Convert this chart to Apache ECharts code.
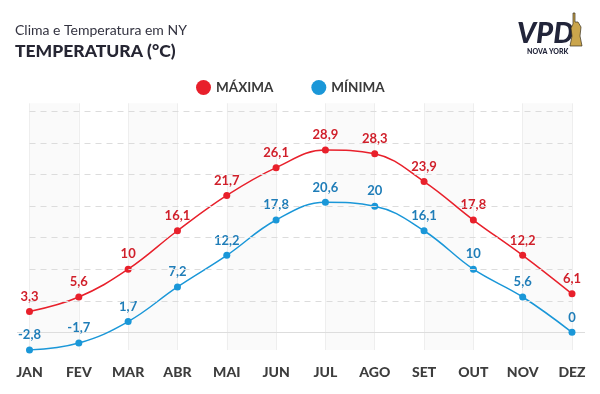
<!DOCTYPE html>
<html><head><meta charset="utf-8">
<script src="https://cdn.jsdelivr.net/npm/echarts@6/dist/echarts.min.js"></script>
<style>html,body{margin:0;padding:0;background:#fff}#c{width:600px;height:394px}</style>
</head><body><div id="c"></div>
<script>
const months = ['JAN','FEV','MAR','ABR','MAI','JUN','JUL','AGO','SET','OUT','NOV','DEZ'];
const maxima = [3.3, 5.6, 10, 16.1, 21.7, 26.1, 28.9, 28.3, 23.9, 17.8, 12.2, 6.1];
const minima = [-2.8, -1.7, 1.7, 7.2, 12.2, 17.8, 20.6, 20, 16.1, 10, 5.6, 0];
const gridValues = [5, 10, 15, 20, 25, 30, 35];

const FONT = 'Lato';
const RED = '#e8202b', BLUE = '#1a97d8';
const fmt = p => String(p.value).replace('.', ',');

const chart = echarts.init(document.getElementById('c'), null, {renderer: 'canvas'});
const option = {
  animation: false,
  backgroundColor: '#fff',
  title: [{
    left: 10, top: 18,
    text: 'Clima e Temperatura em NY',
    textStyle: {fontFamily: FONT, fontSize: 14, fontWeight: 'normal', color: '#333340'},
    subtext: 'TEMPERATURA (°C)',
    itemGap: 5,
    subtextStyle: {fontFamily: FONT, fontSize: 17.5, fontWeight: 900, color: '#262633'}
  }],
  legend: {
    left: 191, top: 75,
    icon: 'circle', itemWidth: 15, itemHeight: 15, itemGap: 38,
    textStyle: {fontFamily: FONT, fontSize: 13.5, fontWeight: 'bold', color: '#3a3a3a'},
    data: ['MÁXIMA', 'MÍNIMA']
  },
  grid: {left: 29.5, right: 28, top: 103.3, bottom: 44},
  xAxis: {
    type: 'category', data: months, boundaryGap: false,
    axisLine: {show: false}, axisTick: {show: false},
    axisLabel: {fontFamily: FONT, fontSize: 14, fontWeight: 900, color: '#3d3d3d', margin: 15},
    splitLine: {show: true, lineStyle: {color: '#eeeeee', width: 1}},
    splitArea: {show: true, areaStyle: {color: ['#fafafa', '#ffffff']}}
  },
  yAxis: {
    type: 'value', min: -2.8, max: 36.3,
    axisLabel: {show: false}, axisLine: {show: false}, axisTick: {show: false},
    splitLine: {show: false}
  },
  series: [{
    name: 'grid', type: 'line', data: [], z: 1, silent: true,
    markLine: {
      silent: true, symbol: 'none', label: {show: false},
      lineStyle: {type: [6, 5], color: '#dcdcdc', width: 1},
      data: gridValues.map(v => ({yAxis: v}))
    }
  }, {
    name: 'MÁXIMA', type: 'line', data: maxima, smooth: 0.4,
    symbol: 'circle', symbolSize: 7,
    itemStyle: {color: RED}, lineStyle: {color: RED, width: 1.5},
    label: {show: true, position: 'top', distance: 5, formatter: fmt,
      fontFamily: FONT, fontSize: 13, fontWeight: 'bold', color: '#d01f2a'},
    z: 3
  }, {
    name: 'MÍNIMA', type: 'line', data: minima, smooth: 0.4,
    symbol: 'circle', symbolSize: 7,
    itemStyle: {color: BLUE}, lineStyle: {color: BLUE, width: 1.5},
    label: {show: true, position: 'top', distance: 5, formatter: fmt,
      fontFamily: FONT, fontSize: 13, fontWeight: 'bold', color: '#1f7db8'},
    z: 3
  }]
};
chart.setOption(option);

const y0 = chart.convertToPixel({yAxisIndex: 0}, 0);
chart.setOption({
  graphic: [
    {type: 'line', z: 1, silent: true, shape: {x1: 17, y1: Math.round(y0) + 0.5, x2: 585, y2: Math.round(y0) + 0.5},
      style: {stroke: '#dddddd', lineWidth: 1}},
    {type: 'text', left: 517, top: 19, z: 5,
      style: {text: 'VPD', font: 'italic 900 29px ' + FONT, fill: '#22253a'}},
    {type: 'text', left: 527, top: 48, z: 5,
      style: {text: 'NOVA YORK', font: '900 7px ' + FONT, fill: '#22253a'}},
    {type: 'polygon', z: 5, shape: {points: [[573,13],[575,13],[575,22],[578,22],[581,27],[580,36],[582,46],[570,46],[572,36],[571,28],[573,24]]},
      style: {fill: '#caa54c', stroke: '#3a3020', lineWidth: 0.7}}
  ]
});
</script></body></html>
